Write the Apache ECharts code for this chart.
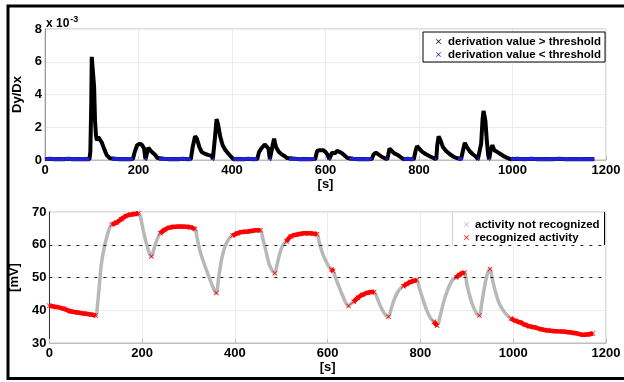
<!DOCTYPE html>
<html>
<head>
<meta charset="utf-8">
<script src="https://cdn.jsdelivr.net/npm/echarts@6/dist/echarts.min.js"></script>
<style>
html,body{margin:0;padding:0;background:#fff;}
#chart{width:624px;height:382px;}
</style>
</head>
<body>
<div id="chart"></div>
<script>
// ---------- data ----------
var xTicks = [0, 200, 400, 600, 800, 1000, 1200];
var derivTicks = [0, 2, 4, 6, 8];          // x 10^-3
var mvTicks = [30, 40, 50, 60, 70];
var threshold = 0.1;                        // x 10^-3

// derivation values [s, value x 10^-3]
var derivation = [
  [0,0.05],[10,0.07],[20,0.04],[30,0.06],[40,0.05],[50,0.08],[60,0.04],[70,0.06],[80,0.05],[90,0.06],[95,0.05],
  [97,0.5],[99,3.5],[100,6.3],[102,6.2],[104,6.25],[105,4.5],[107,2.4],[109,1.5],[111,1.2],[114,1.4],[117,1.3],[121,1.1],[125,0.8],[129,0.5],[132,0.3],[136,0.2],[139,0.1],
  [143,0.05],[150,0.07],[160,0.04],[170,0.06],[180,0.05],[188,0.06],
  [192,0.5],[197,0.9],[203,1.0],[208,0.9],[212,0.7],[215,0.05],[218,0.05],[221,0.75],[225,0.7],[228,0.5],[232,0.45],[236,0.3],[240,0.12],
  [244,0.05],[255,0.07],[265,0.04],[275,0.06],[285,0.05],[295,0.07],[305,0.05],[312,0.06],
  [316,0.8],[321,1.45],[325,1.3],[330,0.8],[335,0.5],[340,0.4],[350,0.3],[357,0.25],[359,0.05],[362,0.05],[364,1.5],[367,2.5],[370,2.2],[375,1.4],[380,0.9],[386,0.6],[392,0.4],[398,0.2],
  [403,0.05],[415,0.06],[425,0.04],[435,0.07],[445,0.05],[454,0.06],
  [458,0.5],[464,0.75],[470,0.95],[474,0.9],[478,0.7],[481,0.05],[484,0.05],[487,0.9],[490,1.3],[494,0.8],[500,0.5],[506,0.35],[512,0.25],[518,0.12],
  [522,0.05],[535,0.07],[545,0.04],[555,0.06],[565,0.05],[578,0.06],
  [582,0.55],[588,0.6],[595,0.6],[600,0.5],[605,0.3],[608,0.05],[611,0.05],[614,0.45],[620,0.4],[625,0.55],[630,0.5],[636,0.4],[642,0.25],[647,0.12],
  [651,0.05],[660,0.07],[670,0.04],[680,0.06],[690,0.05],[699,0.06],
  [703,0.35],[708,0.45],[713,0.35],[720,0.2],[726,0.12],[729,0.05],[732,0.05],[734,0.3],[737,0.7],[741,0.6],[747,0.4],[755,0.3],[762,0.15],
  [767,0.05],[775,0.07],[783,0.04],[789,0.06],
  [793,0.6],[796,0.85],[800,0.7],[807,0.5],[815,0.35],[825,0.2],[831,0.12],[834,0.05],[837,0.05],
  [839,0.9],[842,1.45],[846,1.2],[851,0.8],[858,0.55],[866,0.35],[874,0.2],[880,0.12],
  [884,0.05],[890,0.06],[893,0.05],
  [895,0.7],[898,1.05],[902,0.8],[908,0.55],[915,0.35],[922,0.2],[926,0.05],[929,0.05],
  [933,1.0],[936,2.5],[938,3.0],[940,2.9],[942,2.4],[945,1.2],[948,0.3],[950,0.05],[952,0.05],[954,0.7],[957,0.9],[961,0.6],[967,0.5],[975,0.35],[983,0.2],[990,0.12],
  [996,0.05],[1010,0.07],[1025,0.05],[1040,0.08],[1055,0.04],[1070,0.06],[1085,0.05],[1100,0.07],[1115,0.04],[1130,0.06],[1145,0.05],[1160,0.06],[1175,0.05]
];

// membrane voltage [s, mV]
var voltage = [
  [0,41.4],[15,41.0],[30,40.5],[45,39.7],[60,39.3],[75,39.0],[90,38.7],[100,38.4],
  [104,42],[108,48],[112,54],[118,59],[125,63],[131,65.5],
  [135,66.2],[145,66.8],[155,67.8],[165,68.8],[175,69.2],[185,69.4],[192,69.6],
  [197,68],[203,64],[210,60],[216,57.2],
  [220,56.4],
  [225,58.5],[232,61.5],
  [239,63.5],[248,64.5],[258,65.2],[270,65.5],[282,65.6],[295,65.5],[305,65.3],[314,64.8],
  [320,61],[326,57.5],[333,54.5],[342,51],[350,48],[356,46],
  [360,45.3],
  [365,50],[372,56],[380,60],[388,62],
  [395,62.8],[405,63.5],[415,63.9],[425,64.0],[435,64.2],[445,64.4],[455,64.4],
  [460,62],[467,58],[474,54],[481,52],
  [486,51.3],
  [491,54],[497,57.5],[504,60],
  [511,61],[520,62.5],[530,63.0],[540,63.3],[550,63.5],[560,63.5],[570,63.4],[577,63.2],
  [583,60],[590,57],[598,54.5],[604,53],
  [608,52.5],[612,52.0],
  [618,49.5],[625,47],[632,44.5],[640,42],
  [645,41.3],
  [650,42.0],
  [656,42.6],[665,43.8],[675,44.7],[685,45.3],[695,45.6],[700,45.6],
  [706,44],[713,41.5],[720,39.5],[726,38.4],
  [731,38.0],
  [737,40.5],[744,43.5],[752,45.8],[758,46.8],
  [763,47.3],[770,48.0],[778,48.6],[786,49.0],[792,49.2],
  [797,47],[805,43.5],[812,40.5],[820,38],[825,37],
  [829,36.5],[836,35.3],
  [842,38],[850,42.5],[858,46],[866,48.5],[872,49.7],
  [877,50.0],[884,50.8],[890,51.3],[895,51.5],
  [900,48],[907,44],[914,41],[921,39],
  [927,38.4],
  [932,42],[938,47],[944,51],
  [950,52.6],
  [955,49.5],[962,45.5],[970,42],[978,40],[988,38.3],
  [995,37.5],[1005,36.8],[1015,36.3],[1025,35.6],[1035,35.1],[1045,34.8],[1060,34.2],[1075,33.8],[1090,33.6],[1105,33.5],[1120,33.3],[1135,33.0],[1150,32.5],[1160,32.6],[1172,32.9]
];

// time ranges [s] in which activity was recognized
var recognizedRanges = [
  [0,100],[135,192],[220,220],[239,314],[360,360],[395,455],[486,486],[511,577],
  [608,612],[645,645],[656,700],[731,731],[763,792],[829,836],[877,895],[927,927],[950,950],[995,1172]
];

// ---------- derived series ----------
var derivBelow = derivation.map(function (p) { return p[1] < threshold ? [p[0], p[1]] : [p[0], '-']; });
function isRecognized(t) {
  for (var i = 0; i < recognizedRanges.length; i++) {
    if (t >= recognizedRanges[i][0] && t <= recognizedRanges[i][1]) return true;
  }
  return false;
}
var voltageRecognized = voltage.map(function (p) { return isRecognized(p[0]) ? [p[0], p[1]] : [p[0], '-']; });

var FONT = '"Liberation Sans", Arial, sans-serif';
var xIcon = 'path://M0,1L1,0L5,4L9,0L10,1L6,5L10,9L9,10L5,6L1,10L0,9L4,5Z';

var axisLabel = { color: '#000', fontWeight: 'bold', fontSize: 13, fontFamily: FONT, formatter: function (v) { return String(v); } };
var splitLine = { show: true, lineStyle: { color: '#ececec', width: 1 } };

var chart = echarts.init(document.getElementById('chart'), null, { renderer: 'canvas' });
chart.setOption({
  backgroundColor: '#fff',
  animation: false,
  textStyle: { fontFamily: FONT },
  grid: [
    { left: 45, right: 18, top: 29, height: 131, show: true, borderColor: '#bdbdbd', borderWidth: 1 },
    { left: 45, right: 18, top: 212, height: 131, show: true, borderColor: '#bdbdbd', borderWidth: 1 }
  ],
  xAxis: [0, 1].map(function (g) {
    return {
      type: 'value', gridIndex: g, min: xTicks[0], max: xTicks[xTicks.length - 1], interval: xTicks[1] - xTicks[0],
      name: '[s]', nameLocation: 'middle', nameGap: 15,
      nameTextStyle: { color: '#000', fontWeight: 'bold', fontSize: 13, fontFamily: FONT },
      axisLine: { show: true, lineStyle: { color: '#bdbdbd' } },
      axisTick: { show: true, inside: true, length: 4, lineStyle: { color: '#bdbdbd' } },
      axisLabel: Object.assign({ margin: 4 }, axisLabel),
      splitLine: splitLine
    };
  }),
  yAxis: [
    {
      type: 'value', gridIndex: 0, min: derivTicks[0], max: derivTicks[derivTicks.length - 1], interval: derivTicks[1] - derivTicks[0],
      name: 'Dy/Dx', nameLocation: 'middle', nameGap: 14, nameRotate: 90,
      nameTextStyle: { color: '#000', fontWeight: 'bold', fontSize: 13, fontFamily: FONT },
      axisLine: { show: true, lineStyle: { color: '#9a9a9a' } },
      axisTick: { show: false },
      axisLabel: Object.assign({ margin: 3 }, axisLabel),
      splitLine: splitLine
    },
    {
      type: 'value', gridIndex: 1, min: mvTicks[0], max: mvTicks[mvTicks.length - 1], interval: mvTicks[1] - mvTicks[0],
      name: '[mV]', nameLocation: 'middle', nameGap: 20, nameRotate: 90,
      nameTextStyle: { color: '#000', fontWeight: 'bold', fontSize: 13, fontFamily: FONT },
      axisLine: { show: true, lineStyle: { color: '#333' } },
      axisTick: { show: false },
      axisLabel: Object.assign({ margin: 3 }, axisLabel),
      splitLine: splitLine
    }
  ],
  legend: [
    {
      orient: 'vertical', left: 423, top: 32, itemGap: 0, itemWidth: 5, itemHeight: 5,
      padding: [3, 4, 1, 13], backgroundColor: '#fff', borderColor: '#000', borderWidth: 1,
      textStyle: { color: '#000', fontWeight: 'bold', fontSize: 11.5, fontFamily: FONT, lineHeight: 13, padding: [0, 0, 0, 2] },
      data: [
        { name: 'derivation value > threshold', icon: xIcon, itemStyle: { color: '#000' } },
        { name: 'derivation value < threshold', icon: xIcon, itemStyle: { color: '#2020e0' } }
      ]
    },
    {
      orient: 'vertical', left: 452, top: 213, itemGap: 0, itemWidth: 5, itemHeight: 5,
      padding: [5, 5, 3, 12], backgroundColor: '#fff', borderWidth: 0,
      textStyle: { color: '#000', fontWeight: 'bold', fontSize: 11.5, fontFamily: FONT, lineHeight: 13, padding: [0, 0, 0, 1] },
      data: [
        { name: 'activity not recognized', icon: xIcon, itemStyle: { color: '#b8b8b8' } },
        { name: 'recognized activity', icon: xIcon, itemStyle: { color: '#ff0000' } }
      ]
    }
  ],
  graphic: [
    { type: 'rect', shape: { x: 8, y: 6, width: 640, height: 372.5 }, style: { fill: 'none', stroke: '#000', lineWidth: 3 }, z: 100 },
    { type: 'text', left: 46, top: 15, style: { text: 'x 10{s|-3}', rich: { s: { fontSize: 9, fontWeight: 'bold', verticalAlign: 'top', padding: [0, 0, 8, 1] } }, fontSize: 12, fontWeight: 'bold', fill: '#000', fontFamily: FONT }, z: 50 },
    { type: 'line', shape: { x1: 604.5, y1: 212, x2: 604.5, y2: 245 }, style: { stroke: '#000', lineWidth: 1 }, z: 60 },
    { type: 'line', shape: { x1: 452.5, y1: 212, x2: 452.5, y2: 245 }, style: { stroke: '#cfcfcf', lineWidth: 1 }, z: 60 }
  ],
  series: [
    {
      name: 'derivation value > threshold', type: 'line', xAxisIndex: 0, yAxisIndex: 0,
      data: derivation, showSymbol: false, symbol: 'none', color: '#000',
      lineStyle: { color: '#000', width: 4 }, z: 2
    },
    {
      name: 'derivation value < threshold', type: 'line', xAxisIndex: 0, yAxisIndex: 0,
      data: derivBelow, showSymbol: false, symbol: 'none', color: '#2020e0',
      lineStyle: { color: '#2020e0', width: 3.5 }, z: 3
    },
    {
      name: 'activity not recognized', type: 'line', xAxisIndex: 1, yAxisIndex: 1,
      data: voltage, showSymbol: false, symbol: 'none', smooth: 0.3, color: '#b8b8b8',
      lineStyle: { color: '#b8b8b8', width: 3.5 }, z: 2,
      markLine: {
        silent: true, symbol: 'none', label: { show: false },
        lineStyle: { color: '#222', width: 1, type: [3, 6] },
        data: [{ yAxis: 50 }, { yAxis: 60 }]
      }
    },
    {
      name: 'recognized activity', type: 'line', xAxisIndex: 1, yAxisIndex: 1,
      data: voltageRecognized, smooth: 0.3, color: '#ff0000',
      showSymbol: true, showAllSymbol: true, symbol: xIcon, symbolSize: 5,
      itemStyle: { color: '#ff0000' },
      lineStyle: { color: '#ff0000', width: 4.5 }, z: 3
    }
  ]
});
</script>
</body>
</html>
